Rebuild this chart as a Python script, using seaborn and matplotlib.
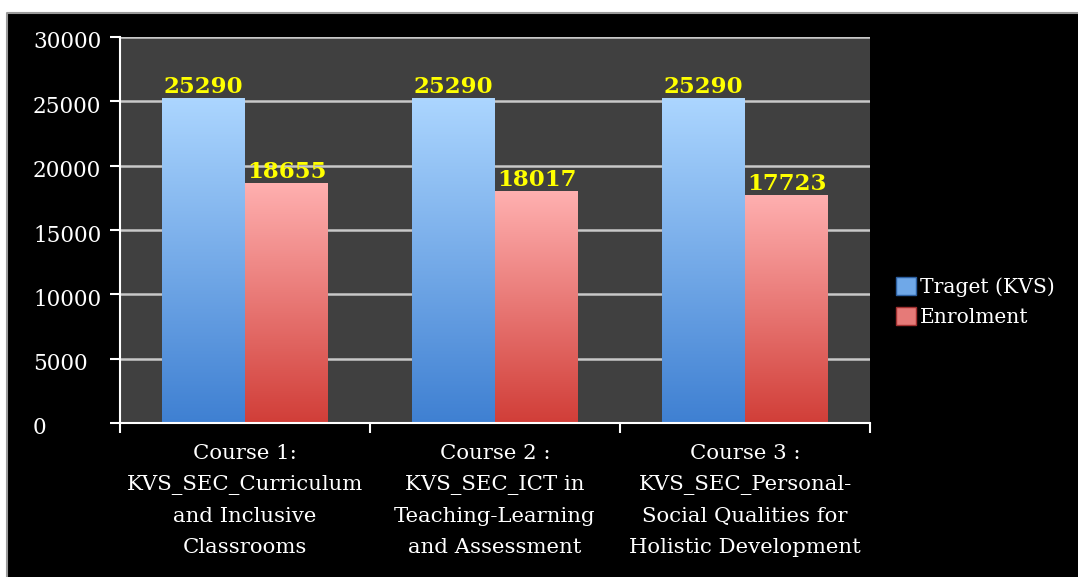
import numpy as np
import matplotlib.pyplot as plt
import matplotlib.transforms as mtransforms
import seaborn as sns
import pandas as pd
from matplotlib.patches import Rectangle, Patch
from matplotlib.lines import Line2D
from matplotlib.colors import LinearSegmentedColormap

# data
courses = ["Course 1:\nKVS_SEC_Curriculum\nand Inclusive\nClassrooms",
           "Course 2 :\nKVS_SEC_ICT in\nTeaching-Learning\nand Assessment",
           "Course 3 :\nKVS_SEC_Personal-\nSocial Qualities for\nHolistic Development"]
series = ["Traget (KVS)", "Enrolment"]
target = [25290, 25290, 25290]
enrolment = [18655, 18017, 17723]
y_ticks = [0, 5000, 10000, 15000, 20000, 25000, 30000]

df = pd.DataFrame({
    "course": courses * 2,
    "series": [series[0]] * 3 + [series[1]] * 3,
    "value": target + enrolment,
})

sns.set_style("white")
plt.rcParams["font.family"] = ["DejaVu Serif"]

W, H = 1078, 577
PX = 72 / 100  # points per pixel
fig = plt.figure(figsize=(W / 100, H / 100), dpi=100, facecolor="white")

# black chart frame with grey top/left edge
fig.patches.append(Rectangle((7 / W, 0), 1 - 7 / W, (H - 13) / H, transform=fig.transFigure,
                             facecolor="black", edgecolor="none", zorder=-5))
fig.lines.append(Line2D([7 / W, 7 / W, 1], [0, (H - 13) / H, (H - 13) / H],
                        transform=fig.transFigure, color="#9a9a9a", linewidth=1.5, zorder=-4))

ax = fig.add_axes([120 / W, (H - 423) / H, 750 / W, 386 / H])
ax.set_facecolor("#404040")

sns.barplot(data=df, x="course", y="value", hue="series", hue_order=series,
            width=0.664, linewidth=0, ax=ax, legend=False)

# gradient fills
cmaps = {
    0: LinearSegmentedColormap.from_list("b", ["#3f80d2", "#acd6ff"]),
    1: LinearSegmentedColormap.from_list("r", ["#d13e38", "#ffb0b0"]),
}
grad = np.linspace(0, 1, 256).reshape(-1, 1)
bars = list(ax.patches)
for i, bar in enumerate(bars):
    bar.set_facecolor("none")
    x0, y0 = bar.get_x(), bar.get_y()
    w, h = bar.get_width(), bar.get_height()
    im = ax.imshow(grad, cmap=cmaps[i // 3], origin="lower", aspect="auto",
                   extent=[x0, x0 + w, y0, y0 + h], zorder=2)
    im.set_clip_path(bar)
    ax.text(x0 + w / 2, y0 + h, f"{int(h)}", ha="center", va="bottom",
            color="#ffff00", fontsize=16.5, fontweight="bold", zorder=4)

ax.set_xlim(-0.5, 2.5)
ax.set_ylim(0, 30000)
ax.set_yticks(y_ticks)
ax.set_yticklabels([str(v) for v in y_ticks], ha="left")
ax.tick_params(axis="y", left=True, colors="white", labelcolor="white", labelsize=15.5,
               length=10 * PX, width=1.5, pad=77 * PX, direction="out")
shift = mtransforms.ScaledTranslation(0, -3 / 100, fig.dpi_scale_trans)
for lab in ax.get_yticklabels():
    lab.set_transform(lab.get_transform() + shift)
ax.grid(axis="y", color="#c8c8c8", linewidth=1.8, zorder=1)
ax.set_axisbelow(True)

ax.set_xticks([0, 1, 2])
ax.set_xticklabels(courses, color="white", fontsize=15.3, linespacing=1.8)
ax.set_xticks([-0.5, 0.5, 1.5, 2.5], minor=True)
ax.tick_params(axis="x", which="major", bottom=False, length=0, pad=15)
ax.tick_params(axis="x", which="minor", bottom=True, length=7, width=1.5, color="white",
               direction="out")

for s in ["top", "right"]:
    ax.spines[s].set_visible(False)
for s in ["left", "bottom"]:
    ax.spines[s].set_color("white")
    ax.spines[s].set_linewidth(1.5)
ax.set_xlabel("")
ax.set_ylabel("")

handles = [Patch(facecolor="#6fa8e8", edgecolor="#2c5fa0"),
           Patch(facecolor="#e67a78", edgecolor="#a03030")]
leg = fig.legend(handles, series, loc="center left", bbox_to_anchor=(878 / W, (H - 302) / H),
                 frameon=False, fontsize=14.6, handlelength=0.95, handleheight=0.95,
                 handletextpad=0.2, labelspacing=0.5, labelcolor="white")

fig.savefig("out.png", dpi=100, facecolor=fig.get_facecolor())
